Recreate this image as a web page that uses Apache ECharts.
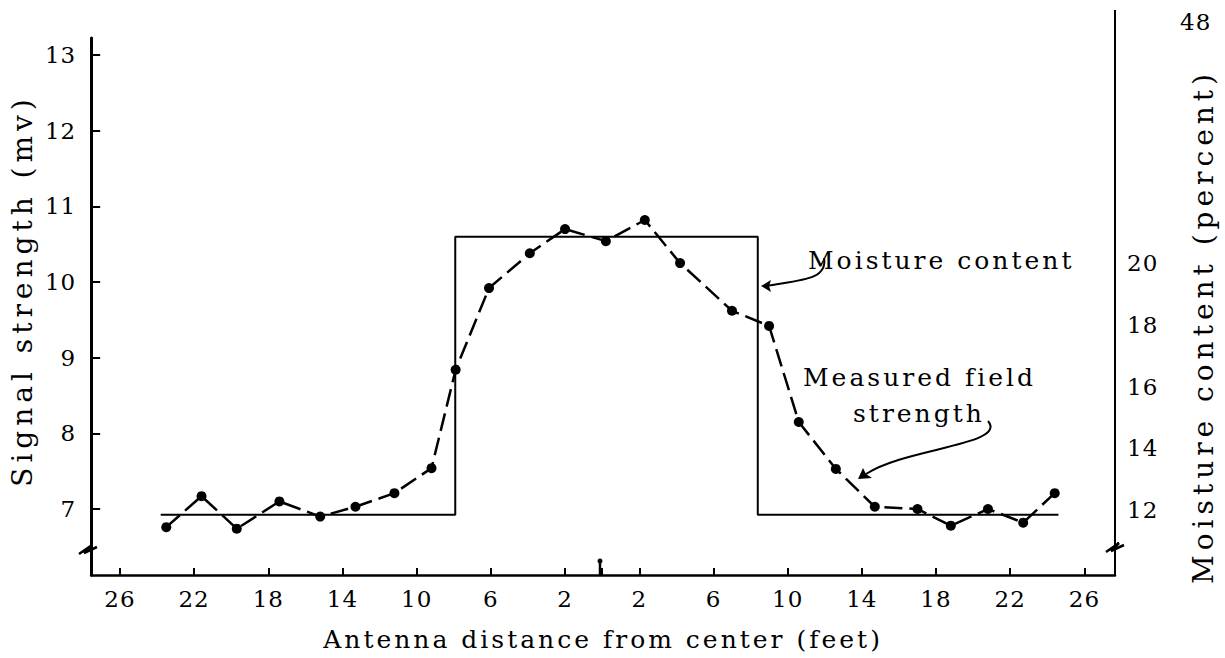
<!DOCTYPE html>
<html>
<head>
<meta charset="utf-8">
<script src="https://cdn.jsdelivr.net/npm/echarts@6/dist/echarts.min.js"></script>
<style>
html, body { margin: 0; padding: 0; background: #ffffff; }
#box { width: 1225px; height: 658px; }
/* the old typeset labels are widely spaced */
#box text[style*="25px"] { letter-spacing: 3px; }
#box text[style*="28px"] { letter-spacing: 5px; }
#box text[style*="23px"] { letter-spacing: 1px; }
</style>
</head>
<body>
<div id="box"></div>
<script>
// distance from center (feet), left side negative
const fieldDist = [-23.5, -21.6, -19.7, -17.4, -15.2, -13.3, -11.2, -9.2, -7.9, -6.1, -3.9, -2.0, 0.2, 2.3, 4.2, 7.0, 9.0, 10.6, 12.6, 14.7, 17.0, 18.8, 20.8, 22.7, 24.4]
// measured field strength (mv)
const fieldMv = [6.76, 7.17, 6.74, 7.10, 6.90, 7.03, 7.21, 7.54, 8.84, 9.92, 10.38, 10.70, 10.54, 10.82, 10.25, 9.62, 9.42, 8.15, 7.53, 7.03, 7.00, 6.78, 7.00, 6.82, 7.21]
// moisture content step (percent)
const moistDist = [-23.8, -7.92, 8.39, 24.6]
const moistPct = [11.85, 20.85, 11.85, 11.85]
// tick labels
const xTicks = [-26, -22, -18, -14, -10, -6, -2, 0, 2, 6, 10, 14, 18, 22, 26]
const xLabels = [-26, -22, -18, -14, -10, -6, -2, 2, 6, 10, 14, 18, 22, 26]
const mvTicks = [7, 8, 9, 10, 11, 12, 13]
const pctTicks = [12, 14, 16, 18, 20]

const font = "DejaVu Serif"
const txt = { color: "#000", fontFamily: font, fontSize: 23 }

let myCharts = echarts.init(document.getElementById("box"), null, { renderer: "svg" })
let option = {
	backgroundColor: "#ffffff",
	animation: false,
	grid: { left: 88, right: 110, top: 38, bottom: 83 },
	xAxis: {
		type: "value",
		min: -27.55,
		max: 27.65,
		name: "Antenna distance from center (feet)",
		nameLocation: "middle",
		nameGap: 52,
		nameTextStyle: { ...txt, fontSize: 25 },
		axisLine: { onZero: false, lineStyle: { color: "#000", width: 2.5 } },
		axisTick: { customValues: xTicks, inside: true, length: 7, lineStyle: { color: "#000", width: 2 } },
		axisLabel: { customValues: xLabels, formatter: (v) => String(Math.abs(v)), margin: 12, ...txt },
		splitLine: { show: false },
	},
	yAxis: [
		{
			type: "value",
			position: "left",
			min: 6.128,
			max: 13.225,
			name: "Signal strength (mv)",
			nameLocation: "middle",
			nameGap: 50,
			nameTextStyle: { ...txt, fontSize: 28, padding: [0, 0, 0, 32] },
			axisLine: { show: true, onZero: false, lineStyle: { color: "#000", width: 3 } },
			axisTick: { customValues: mvTicks, inside: true, length: 9, lineStyle: { color: "#000", width: 2 } },
			axisLabel: { customValues: mvTicks, margin: 15, ...txt },
			splitLine: { show: false },
		},
		{
			type: "value",
			position: "right",
			min: 9.895,
			max: 27.29,
			name: "Moisture content (percent)",
			nameLocation: "middle",
			nameRotate: 90,
			nameGap: 74,
			nameTextStyle: { ...txt, fontSize: 28, padding: [0, 40, 0, 0] },
			axisLine: { show: true, onZero: false, lineStyle: { color: "#000", width: 2 } },
			axisTick: { show: false },
			axisLabel: { customValues: pctTicks, margin: 12, ...txt },
			splitLine: { show: false },
		},
	],
	series: [
		{
			name: "Measured field strength",
			type: "line",
			data: fieldDist.map((d, i) => [d, fieldMv[i]]),
			symbol: "circle",
			symbolSize: 10,
			itemStyle: { color: "#000" },
			lineStyle: { color: "#000", width: 2.5, type: [18, 7] },
			z: 3,
		},
		{
			name: "Moisture content",
			type: "line",
			yAxisIndex: 1,
			step: "end",
			data: moistDist.map((d, i) => [d, moistPct[i]]),
			symbol: "none",
			lineStyle: { color: "#000", width: 2 },
		},
	],
	graphic: [
		// page number
		{ type: "text", left: 1180, top: 10, style: { text: "48", fill: "#000", font: "23px '" + font + "'" } },
		// right axis extension above grid
		{ type: "line", shape: { x1: 1115, y1: 10, x2: 1115, y2: 38 }, style: { stroke: "#000", lineWidth: 2 } },
		// axis breaks
		{ type: "polyline", shape: { points: [[79, 554], [92, 545], [84, 553], [97, 547]] }, style: { stroke: "#000", lineWidth: 2.5, fill: null } },
		{ type: "polyline", shape: { points: [[1106, 552], [1119, 543], [1111, 551], [1124, 545]] }, style: { stroke: "#000", lineWidth: 2.5, fill: null } },
		// center tick
		{ type: "line", shape: { x1: 600, y1: 575, x2: 600, y2: 561 }, style: { stroke: "#000", lineWidth: 2.5 } },
		{ type: "circle", shape: { cx: 600, cy: 561, r: 2.5 }, style: { fill: "#000" } },
		// annotations
		{ type: "text", left: 808, top: 248, style: { text: "Moisture content", fill: "#000", font: "25px '" + font + "'" } },
		{ type: "text", left: 803, top: 365, style: { text: "Measured field", fill: "#000", font: "25px '" + font + "'" } },
		{ type: "text", left: 853, top: 401, style: { text: "strength", fill: "#000", font: "25px '" + font + "'" } },
		{ type: "bezierCurve", shape: { x1: 824, y1: 258, cpx1: 828, cpy1: 280, cpx2: 800, cpy2: 280, x2: 766, y2: 286 }, style: { stroke: "#000", lineWidth: 2, fill: null } },
		{ type: "polygon", shape: { points: [[761, 286], [771, 280], [769, 286], [771, 292]] }, style: { fill: "#000" } },
		{ type: "bezierCurve", shape: { x1: 988, y1: 421, cpx1: 1008, cpy1: 445, cpx2: 905, cpy2: 448, x2: 866, y2: 474 }, style: { stroke: "#000", lineWidth: 2, fill: null } },
		{ type: "polygon", shape: { points: [[858, 479], [863, 468], [866, 474], [872, 478]] }, style: { fill: "#000" } },
	],
}
myCharts.setOption(option)
</script>
</body>
</html>
